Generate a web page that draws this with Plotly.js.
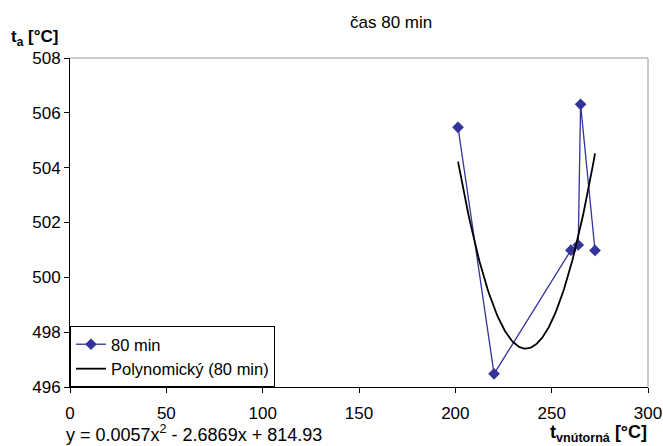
<!DOCTYPE html>
<html>
<head>
<meta charset="utf-8">
<script src="https://cdn.plot.ly/plotly-3.0.1.min.js"></script>
<style>html,body{margin:0;padding:0;background:#fff;}#chart{width:663px;height:446px;}</style>
</head>
<body>
<div id="chart"></div>
<script>
// Data
const tInner = [201.4, 220.1, 260.0, 263.8, 265.0, 272.5];
const tA = [505.47, 496.48, 500.99, 501.18, 506.31, 500.98];
const seriesName = '80 min';
const trendName = 'Polynomický (80 min)';
const xTicks = [0, 50, 100, 150, 200, 250, 300];
const yTicks = [496, 498, 500, 502, 504, 506, 508];

// Quadratic least-squares trendline (as the spreadsheet computes it)
function quadFit(xs, ys) {
  let S = [0,0,0,0,0], T = [0,0,0];
  for (let i = 0; i < xs.length; i++) {
    let p = 1;
    for (let k = 0; k < 5; k++) { S[k] += p; if (k < 3) T[k] += p * ys[i]; p *= xs[i]; }
  }
  const M = [[S[0],S[1],S[2],T[0]],[S[1],S[2],S[3],T[1]],[S[2],S[3],S[4],T[2]]];
  for (let c = 0; c < 3; c++) {
    for (let r = c + 1; r < 3; r++) {
      const f = M[r][c] / M[c][c];
      for (let k = c; k < 4; k++) M[r][k] -= f * M[c][k];
    }
  }
  const sol = [0,0,0];
  for (let r = 2; r >= 0; r--) {
    let s = M[r][3];
    for (let k = r + 1; k < 3; k++) s -= M[r][k] * sol[k];
    sol[r] = s / M[r][r];
  }
  return sol; // c0 + c1 x + c2 x^2
}
const coef = quadFit(tInner, tA);
const xmin = Math.min(...tInner), xmax = Math.max(...tInner);
const trendX = [], trendY = [];
for (let i = 0; i <= 120; i++) {
  const x = xmin + (xmax - xmin) * i / 120;
  trendX.push(x);
  trendY.push(coef[0] + coef[1] * x + coef[2] * x * x);
}

const font = 'Liberation Sans, Arial, sans-serif';
const data = [
  {x: tInner, y: tA, type: 'scatter', mode: 'lines+markers', name: seriesName,
   line: {color: '#333399', width: 1.3}, marker: {symbol: 'diamond', size: 9, color: '#333399'}},
  {x: trendX, y: trendY, type: 'scatter', mode: 'lines', name: trendName,
   line: {color: '#000000', width: 1.8}}
];
const layout = {
  width: 663, height: 446,
  margin: {l: 70, r: 15, t: 58, b: 59},
  paper_bgcolor: '#fff', plot_bgcolor: '#fff',
  showlegend: true,
  legend: {x: 0, y: 0, xanchor: 'left', yanchor: 'bottom', bgcolor: '#fff',
           bordercolor: '#000', borderwidth: 1, font: {family: font, size: 16.5, color: '#000'},
           tracegroupgap: 0, itemwidth: 30},
  xaxis: {range: [0, 300], tickvals: xTicks, ticks: 'outside', ticklen: 5, tickcolor: '#000',
          showline: true, linecolor: '#000', linewidth: 1, showgrid: false, zeroline: false,
          ticklabelstandoff: 6,
          tickfont: {family: font, size: 17, color: '#000'}},
  yaxis: {range: [496, 508], tickvals: yTicks, ticks: 'outside', ticklen: 5, tickcolor: '#000',
          showline: true, linecolor: '#000', linewidth: 1, showgrid: false, zeroline: false,
          tickfont: {family: font, size: 17, color: '#000'}},
  shapes: [
    {type: 'line', xref: 'paper', yref: 'paper', x0: 0, x1: 1, y0: 1, y1: 1, line: {color: '#999', width: 1}},
    {type: 'line', xref: 'paper', yref: 'paper', x0: 1, x1: 1, y0: 0, y1: 1, line: {color: '#999', width: 1}}
  ],
  annotations: [
    {text: 'čas 80 min', xref: 'paper', yref: 'paper', x: 0.556, y: 1, yshift: 36, yanchor: 'middle',
     showarrow: false, font: {family: font, size: 17, color: '#000'}},
    {text: '<b>t<sub>a</sub> [°C]</b>', xref: 'paper', yref: 'paper', x: 0, xshift: -61, xanchor: 'left',
     y: 1, yshift: 20, yanchor: 'middle', showarrow: false, font: {family: font, size: 17, color: '#000'}},
    {text: 'y = 0.0057x<sup>2</sup> - 2.6869x + 814.93', xref: 'paper', yref: 'paper', x: 0, xshift: -6,
     xanchor: 'left', y: 0, yshift: -46, yanchor: 'middle', showarrow: false,
     font: {family: font, size: 18, color: '#000'}},
    {text: '<b>t<sub>vnútorná</sub> [°C]</b>', xref: 'paper', yref: 'paper', x: 1, xshift: 1,
     xanchor: 'right', y: 0, yshift: -46, yanchor: 'middle', showarrow: false,
     font: {family: font, size: 18, color: '#000'}}
  ]
};
Plotly.newPlot('chart', data, layout, {displayModeBar: false, staticPlot: true});
</script>
</body>
</html>
